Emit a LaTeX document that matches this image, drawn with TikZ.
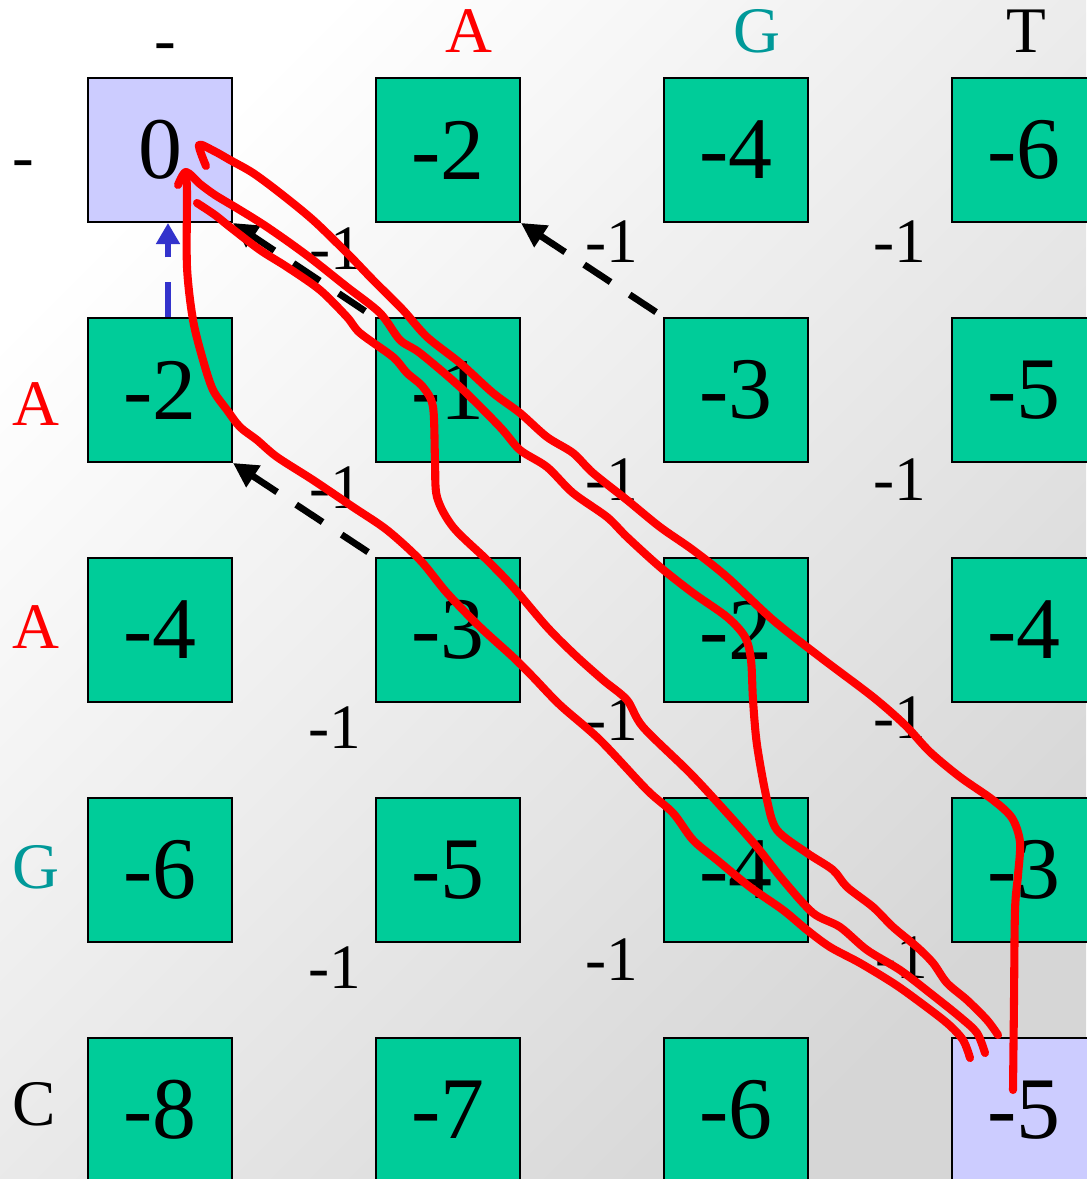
\documentclass[tikz,border=0pt]{standalone}
\usepackage{fontspec}
\setmainfont{Liberation Serif}
\usetikzlibrary{arrows.meta}
\definecolor{cellgreen}{HTML}{00CC99}
\definecolor{cellblue}{HTML}{CCCCFF}
\definecolor{teal2}{HTML}{009999}
\definecolor{arrowblue}{HTML}{3333CC}
\tikzset{
  cell/.style={draw=black, line width=1.1pt, fill=cellgreen, minimum size=2.88cm, inner sep=0pt, font=\fontsize{50}{50}\selectfont},
  endcell/.style={cell, fill=cellblue},
  hdr/.style={inner sep=0pt, font=\fontsize{37}{37}\selectfont},
  gap/.style={inner sep=0pt, font=\fontsize{36}{36}\selectfont},
  backarrow/.style={line width=3.8pt, dash pattern=on 18pt off 13pt, -{Triangle[length=14pt,width=14pt]}},
  redstroke/.style={red, line width=4.6pt, line cap=round, line join=round}
}
\begin{document}
\begin{tikzpicture}[x=0.02cm, y=-0.02cm]
\useasboundingbox (0,0) rectangle (1086,1179);
\shade[top color=white, bottom color=black!16, shading angle=45] (0,0) rectangle (1086,1179);

% column headers
\node[hdr, anchor=base] (h0) at (165,62) {-};
\node[hdr, anchor=base, text=red] (h1) at (469,53) {A};
\node[hdr, anchor=base, text=teal2] (h2) at (757,53) {G};
\node[hdr, anchor=base] (h3) at (1026,53) {T};
% row headers
\node[hdr, anchor=base west] (r0) at (12,179) {-};
\node[hdr, anchor=base west, text=red] (r1) at (12,425) {A};
\node[hdr, anchor=base west, text=red] (r2) at (12,648) {A};
\node[hdr, anchor=base west, text=teal2] (r3) at (12,888) {G};
\node[hdr, anchor=base west] (r4) at (12,1125) {C};

% cells
\node[endcell] (c11) at (160,150) {0};
\node[cell] (c12) at (448,150) {-2};
\node[cell] (c13) at (736,150) {-4};
\node[cell] (c14) at (1024,150) {-6};
\node[cell] (c21) at (160,390) {-2};
\node[cell] (c22) at (448,390) {-1};
\node[cell] (c23) at (736,390) {-3};
\node[cell] (c24) at (1024,390) {-5};
\node[cell] (c31) at (160,630) {-4};
\node[cell] (c32) at (448,630) {-3};
\node[cell] (c33) at (736,630) {-2};
\node[cell] (c34) at (1024,630) {-4};
\node[cell] (c41) at (160,870) {-6};
\node[cell] (c42) at (448,870) {-5};
\node[cell] (c43) at (736,870) {-4};
\node[cell] (c44) at (1024,870) {-3};
\node[cell] (c51) at (160,1110) {-8};
\node[cell] (c52) at (448,1110) {-7};
\node[cell] (c53) at (736,1110) {-6};
\node[endcell] (c54) at (1024,1110) {-5};

% gap labels
\node[gap] (g11) at (336,249) {-1};
\node[gap] (g12) at (612,242) {-1};
\node[gap] (g13) at (900,242) {-1};
\node[gap] (g21) at (336,488) {-1};
\node[gap] (g22) at (612,480) {-1};
\node[gap] (g23) at (900,480) {-1};
\node[gap] (g31) at (335,728) {-1};
\node[gap] (g32) at (612,720) {-1};
\node[gap] (g33) at (900,718) {-1};
\node[gap] (g41) at (335,968) {-1};
\node[gap] (g42) at (612,960) {-1};
\node[gap] (g43) at (902,958) {-1};

% dashed arrows
\draw[backarrow] ([shift={(-7,-5)}]c23.north west) -- (c12.south east);
\draw[backarrow] ([shift={(-7,-5)}]c32.north west) -- (c21.south east);
\draw[backarrow] ([shift={(-10,-6)}]c22.north west) -- (c11.south east);
\draw[backarrow, arrowblue, dash pattern=on 20pt off 14pt, -{Triangle[length=12pt,width=13pt]}] ([xshift=0.16cm]c21.north) -- ([xshift=0.16cm]c11.south);

% red strokes
\draw[redstroke] plot[smooth, tension=0.5] coordinates {(206,166) (199,145) (214,151) (230,160) (253,173) (280,193) (313,220) (347,253) (373,280) (403,310) (427,337) (460,363) (493,393) (520,413) (547,437) (573,453) (593,473) (627,500) (660,527) (693,550) (727,577) (773,620) (820,657) (873,697) (905,725) (930,752) (960,777) (993,800) (1012,818) (1020,842) (1018,875) (1015,910) (1014,1000) (1013,1090)};
\draw[redstroke] plot[smooth, tension=0.5] coordinates {(178,185) (186,172) (200,184) (215,195) (235,207) (253,218) (267,227) (290,243) (313,260) (347,287) (380,313) (400,340) (420,353) (460,387) (500,427) (520,450) (547,467) (573,493) (607,517) (627,537) (660,567) (693,593) (727,617) (745,637) (751,660) (753,700) (757,745) (767,800) (777,830) (807,853) (833,870) (847,887) (873,907) (893,927) (917,947) (933,963) (947,983) (967,1000) (987,1020) (998,1035)};
\draw[redstroke] plot[smooth, tension=0.5] coordinates {(186,172) (187,193) (187,267) (193,320) (203,360) (213,390) (227,410) (240,427) (257,440) (277,457) (313,480) (353,507) (387,530) (420,560) (447,593) (480,627) (513,657) (533,677) (560,705) (600,740) (647,790) (673,813) (693,840) (717,860) (750,887) (783,910) (807,930) (830,947) (860,963) (893,983) (917,1000) (947,1023) (963,1040) (970,1058)};
\draw[redstroke] plot[smooth, tension=0.5] coordinates {(197,203) (215,215) (230,227) (260,250) (287,267) (320,290) (347,317) (360,333) (393,357) (407,373) (423,387) (433,407) (435,460) (437,497) (453,527) (487,560) (513,587) (547,627) (575,655) (603,680) (627,700) (643,727) (690,773) (727,813) (757,847) (783,880) (813,913) (840,927) (867,950) (900,970) (930,993) (960,1017) (977,1033) (985,1053)};
\end{tikzpicture}
\end{document}
